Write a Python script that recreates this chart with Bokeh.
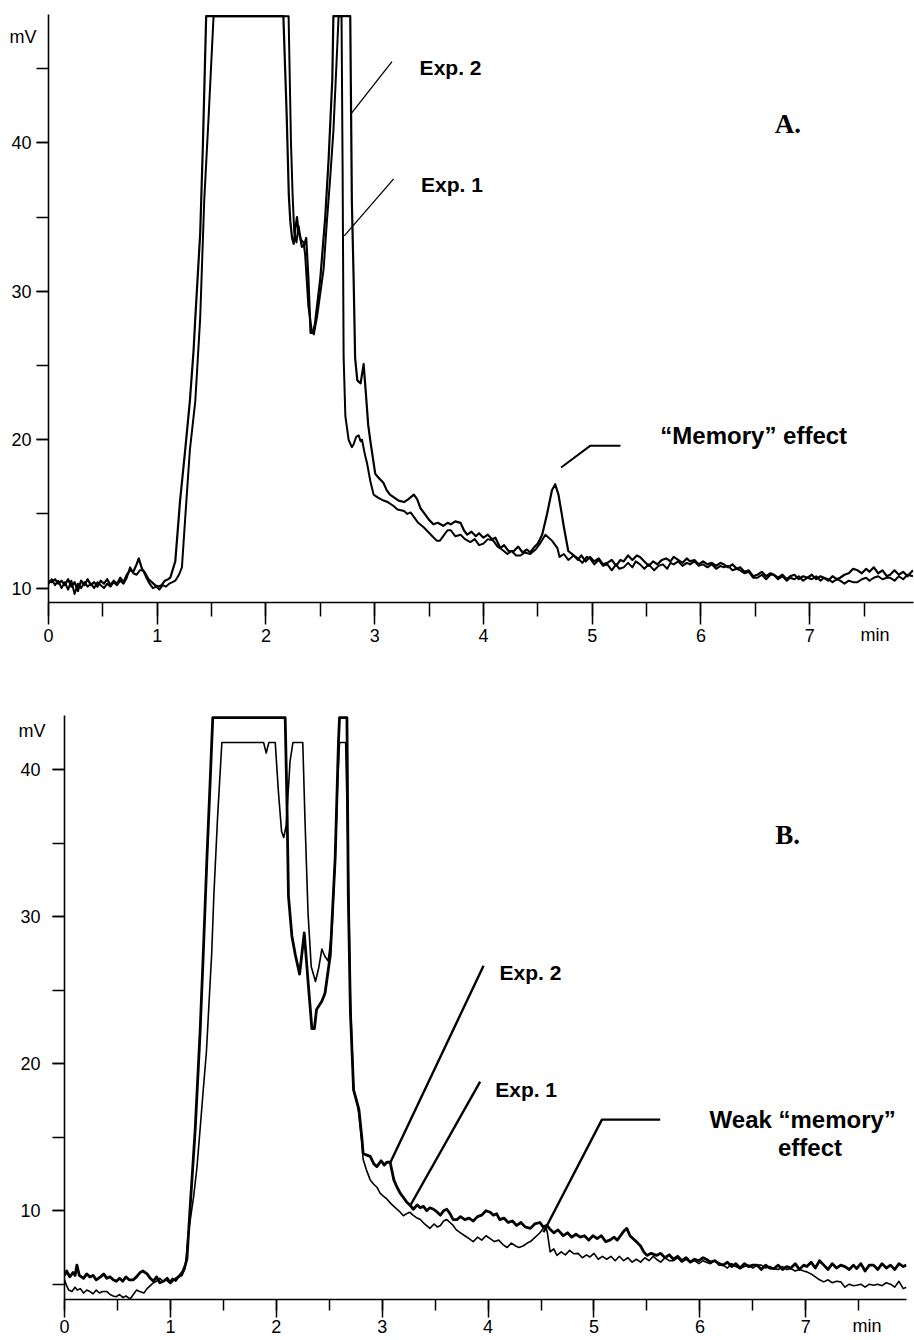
from bokeh.plotting import figure
from bokeh.models import SingleIntervalTicker, FixedTicker, LinearAxis, Label, Range1d
from bokeh.embed import file_html
from bokeh.resources import INLINE

# ---------------- data: (time [min], signal [mV]) ----------------
A_EXP2 = [
    (0.00, 10.5), (0.03, 10.4), (0.06, 10.6), (0.09, 10.3), (0.12, 10.5), (0.15, 10.2), (0.18, 10.6),
    (0.21, 10.1), (0.24, 10.4), (0.27, 9.8), (0.30, 10.5), (0.33, 10.2), (0.36, 10.6), (0.39, 10.2),
    (0.42, 10.4), (0.45, 10.1), (0.48, 10.5), (0.51, 10.3), (0.54, 10.6), (0.57, 10.2), (0.60, 10.5),
    (0.63, 10.3), (0.66, 10.7), (0.69, 10.4), (0.72, 10.9), (0.75, 11.2), (0.78, 11.1), (0.81, 11.6),
    (0.83, 12.0), (0.86, 11.3), (0.89, 11.0), (0.92, 10.6), (0.95, 10.4), (0.98, 10.2), (1.01, 10.1),
    (1.04, 10.2), (1.07, 10.5), (1.10, 10.6), (1.12, 10.7), (1.166, 11.8), (1.21, 15.9), (1.257, 19.3),
    (1.30, 22.6), (1.334, 26.0), (1.35, 28.2), (1.395, 33.9), (1.42, 39.9), (1.45, 48.55),
    (2.16, 48.55), (2.19, 42.0), (2.21, 36.5), (2.224, 34.7), (2.24, 33.6), (2.255, 33.2), (2.27, 34.2),
    (2.285, 35.0), (2.30, 34.0), (2.316, 33.6), (2.33, 33.0), (2.35, 33.1), (2.37, 33.6), (2.39, 30.9),
    (2.41, 27.2), (2.43, 27.2), (2.45, 27.8), (2.50, 30.9), (2.545, 35.0), (2.576, 38.9), (2.61, 44.3),
    (2.62, 48.55), (2.775, 48.55), (2.79, 36.0), (2.806, 30.9), (2.82, 25.5), (2.84, 24.0), (2.87, 23.8),
    (2.898, 25.1), (2.92, 23.0), (2.94, 21.0), (2.96, 19.9), (3.005, 17.7), (3.04, 17.4), (3.08, 17.1),
    (3.11, 16.6), (3.14, 16.3), (3.18, 16.1), (3.22, 15.9), (3.27, 15.8), (3.31, 16.0), (3.36, 16.3),
    (3.39, 16.0), (3.42, 15.4), (3.46, 15.0), (3.50, 14.6), (3.54, 14.3), (3.58, 14.4), (3.63, 14.2),
    (3.67, 14.4), (3.70, 14.3), (3.74, 14.5), (3.79, 14.4), (3.82, 13.9), (3.85, 13.6), (3.89, 13.8),
    (3.93, 13.5), (3.96, 13.7), (4.00, 13.4), (4.04, 13.6), (4.08, 13.3), (4.11, 13.4), (4.155, 12.7),
    (4.19, 12.9), (4.23, 12.5), (4.28, 12.5), (4.32, 12.8), (4.36, 12.4), (4.40, 12.6), (4.43, 12.4),
    (4.46, 12.7), (4.50, 13.0), (4.54, 13.6), (4.585, 15.0), (4.63, 16.6), (4.66, 17.0), (4.69, 16.3),
    (4.72, 15.0), (4.74, 14.1), (4.78, 12.5), (4.83, 12.2), (4.87, 11.9), (4.90, 12.2), (4.94, 11.8),
    (4.98, 12.1), (5.02, 11.8), (5.06, 12.0), (5.10, 11.6), (5.14, 11.7), (5.18, 11.9), (5.22, 11.5),
    (5.26, 11.9), (5.29, 11.8), (5.33, 12.2), (5.37, 11.9), (5.41, 12.2), (5.44, 12.1), (5.48, 11.8),
    (5.52, 11.5), (5.56, 11.8), (5.60, 11.6), (5.64, 11.9), (5.68, 12.0), (5.72, 11.8), (5.75, 12.1),
    (5.79, 11.9), (5.83, 11.7), (5.87, 12.0), (5.90, 11.8), (5.94, 11.9), (5.98, 11.6), (6.02, 11.8),
    (6.06, 11.6), (6.10, 11.7), (6.14, 11.5), (6.18, 11.7), (6.21, 11.6), (6.25, 11.4), (6.29, 11.6),
    (6.33, 11.3), (6.36, 11.4), (6.40, 11.1), (6.44, 11.2), (6.48, 10.8), (6.52, 10.9), (6.56, 11.1),
    (6.60, 10.8), (6.64, 11.0), (6.67, 10.9), (6.71, 10.7), (6.75, 10.9), (6.79, 10.6), (6.82, 10.8),
    (6.86, 10.9), (6.90, 10.6), (6.94, 10.8), (6.98, 10.7), (7.02, 10.9), (7.06, 10.6), (7.10, 10.8),
    (7.13, 10.7), (7.17, 10.5), (7.21, 10.8), (7.25, 10.6), (7.28, 10.7), (7.32, 10.9), (7.36, 11.0),
    (7.40, 11.3), (7.44, 11.2), (7.48, 11.0), (7.52, 11.3), (7.55, 11.1), (7.59, 11.4), (7.63, 11.0),
    (7.67, 11.2), (7.71, 10.8), (7.74, 10.9), (7.78, 11.2), (7.82, 10.9), (7.86, 11.1), (7.90, 10.8),
    (7.95, 11.2),
]

A_EXP1 = [
    (0.00, 10.3), (0.03, 10.6), (0.06, 10.2), (0.09, 10.5), (0.12, 10.0), (0.15, 10.4), (0.18, 9.9),
    (0.21, 10.5), (0.24, 9.6), (0.27, 10.3), (0.30, 10.0), (0.33, 10.4), (0.36, 10.1), (0.39, 10.3),
    (0.42, 10.0), (0.45, 10.4), (0.48, 10.2), (0.51, 10.0), (0.54, 10.3), (0.57, 10.1), (0.60, 10.4),
    (0.63, 10.2), (0.66, 10.5), (0.69, 10.3), (0.72, 10.7), (0.75, 11.4), (0.78, 11.0), (0.81, 10.9),
    (0.84, 11.2), (0.87, 11.2), (0.90, 10.7), (0.93, 10.3), (0.96, 10.0), (0.99, 10.1), (1.02, 9.9),
    (1.05, 10.2), (1.08, 10.1), (1.11, 10.3), (1.14, 10.4), (1.166, 10.5), (1.20, 10.9), (1.227, 11.4),
    (1.258, 14.8), (1.30, 19.3), (1.35, 22.6), (1.395, 28.2), (1.432, 36.1), (1.472, 41.7), (1.518, 48.55),
    (2.208, 48.55), (2.23, 40.0), (2.245, 36.5), (2.26, 34.0), (2.28, 33.3), (2.30, 34.4), (2.32, 33.5),
    (2.345, 33.3), (2.36, 32.5), (2.39, 29.0), (2.42, 27.4), (2.44, 27.1), (2.47, 28.3), (2.53, 31.5),
    (2.56, 34.7), (2.59, 37.6), (2.62, 40.8), (2.65, 45.6), (2.668, 48.55), (2.695, 48.55), (2.705, 38.0),
    (2.714, 25.6), (2.73, 21.6), (2.76, 20.0), (2.79, 19.5), (2.806, 19.7), (2.83, 20.2), (2.852, 20.3),
    (2.87, 19.9), (2.883, 20.0), (2.91, 19.0), (2.93, 18.4), (2.96, 17.2), (2.99, 16.3), (3.03, 16.1),
    (3.08, 15.9), (3.12, 15.8), (3.17, 15.55), (3.21, 15.3), (3.27, 15.2), (3.30, 15.0), (3.33, 15.1),
    (3.36, 14.8), (3.40, 14.4), (3.45, 14.1), (3.49, 13.8), (3.53, 13.5), (3.57, 13.2), (3.60, 13.2),
    (3.64, 13.6), (3.67, 13.9), (3.70, 13.9), (3.74, 13.5), (3.79, 13.6), (3.83, 13.3), (3.88, 13.1),
    (3.92, 13.3), (3.96, 12.9), (4.00, 13.0), (4.04, 13.3), (4.09, 13.2), (4.13, 12.8), (4.17, 12.6),
    (4.22, 12.3), (4.26, 12.5), (4.30, 12.2), (4.34, 12.2), (4.38, 12.4), (4.43, 12.3), (4.48, 12.6),
    (4.52, 13.0), (4.57, 13.6), (4.60, 13.4), (4.63, 13.2), (4.68, 12.7), (4.70, 12.1), (4.74, 12.3),
    (4.78, 11.9), (4.83, 12.2), (4.87, 12.0), (4.91, 11.7), (4.95, 12.1), (4.98, 12.0), (5.02, 11.6),
    (5.06, 11.9), (5.10, 11.5), (5.14, 11.6), (5.18, 11.2), (5.22, 11.6), (5.25, 11.3), (5.29, 11.4),
    (5.33, 11.7), (5.37, 11.4), (5.40, 11.8), (5.44, 11.6), (5.48, 11.3), (5.52, 11.6), (5.57, 11.2),
    (5.61, 11.5), (5.65, 11.6), (5.69, 11.3), (5.72, 11.7), (5.75, 11.6), (5.79, 11.8), (5.83, 11.5),
    (5.87, 11.7), (5.90, 11.6), (5.94, 11.8), (5.98, 11.5), (6.02, 11.6), (6.06, 11.4), (6.10, 11.6),
    (6.14, 11.3), (6.18, 11.5), (6.21, 11.4), (6.25, 11.5), (6.29, 11.2), (6.33, 11.3), (6.36, 11.2),
    (6.40, 11.0), (6.44, 11.1), (6.48, 10.7), (6.52, 10.7), (6.56, 10.9), (6.60, 10.6), (6.64, 10.9),
    (6.67, 10.9), (6.71, 10.6), (6.75, 10.8), (6.79, 10.5), (6.82, 10.7), (6.86, 10.6), (6.90, 10.8),
    (6.94, 10.5), (6.98, 10.7), (7.02, 10.6), (7.06, 10.8), (7.10, 10.5), (7.13, 10.7), (7.17, 10.6),
    (7.21, 10.4), (7.25, 10.6), (7.28, 10.5), (7.32, 10.3), (7.36, 10.5), (7.40, 10.4), (7.44, 10.4),
    (7.48, 10.6), (7.52, 10.7), (7.55, 10.5), (7.59, 10.7), (7.63, 10.8), (7.67, 10.6), (7.71, 10.7),
    (7.74, 10.7), (7.78, 10.5), (7.82, 10.8), (7.86, 10.6), (7.90, 10.9), (7.95, 10.8),
]

B_EXP2 = [
    (0.00, 5.6), (0.02, 5.9), (0.05, 5.5), (0.08, 5.8), (0.10, 5.6), (0.117, 6.3), (0.14, 5.6),
    (0.18, 5.4), (0.21, 5.7), (0.24, 5.5), (0.27, 5.6), (0.30, 5.3), (0.34, 5.5), (0.37, 5.7),
    (0.40, 5.4), (0.43, 5.5), (0.46, 5.3), (0.49, 5.2), (0.52, 5.4), (0.55, 5.2), (0.58, 5.5),
    (0.61, 5.3), (0.65, 5.3), (0.68, 5.5), (0.715, 5.8), (0.74, 5.9), (0.78, 5.7), (0.81, 5.4),
    (0.84, 5.2), (0.87, 5.5), (0.90, 5.1), (0.935, 5.2), (0.97, 5.4), (1.00, 5.1), (1.03, 5.3),
    (1.06, 5.4), (1.09, 5.6), (1.12, 5.9), (1.14, 6.3), (1.156, 6.7), (1.187, 10.3), (1.234, 15.5),
    (1.28, 22.1), (1.31, 27.4), (1.345, 34.0), (1.376, 39.3), (1.40, 43.55), (2.084, 43.55),
    (2.10, 38.0), (2.115, 31.4), (2.147, 28.7), (2.18, 27.4), (2.22, 26.1), (2.264, 28.9), (2.30, 25.6),
    (2.336, 22.4), (2.36, 22.4), (2.38, 23.7), (2.43, 24.25), (2.46, 24.8), (2.51, 27.4), (2.556, 34.0),
    (2.587, 41.9), (2.597, 43.55), (2.667, 43.55), (2.68, 31.4), (2.70, 23.5), (2.73, 18.2), (2.78, 16.9),
    (2.81, 14.8), (2.82, 13.9), (2.85, 13.8), (2.887, 13.7), (2.92, 13.2), (2.95, 13.0), (2.99, 13.4),
    (3.02, 13.1), (3.044, 13.3), (3.075, 13.3), (3.11, 12.1), (3.14, 11.6), (3.17, 11.2), (3.20, 10.9),
    (3.23, 10.6), (3.26, 10.4), (3.295, 10.1), (3.33, 10.4), (3.36, 10.2), (3.39, 10.3), (3.42, 10.0),
    (3.45, 10.2), (3.485, 10.1), (3.52, 9.9), (3.55, 9.7), (3.58, 10.0), (3.61, 10.1), (3.64, 9.8),
    (3.67, 9.4), (3.705, 9.4), (3.74, 9.6), (3.78, 9.4), (3.82, 9.5), (3.86, 9.3), (3.90, 9.6),
    (3.94, 9.7), (3.98, 10.0), (4.02, 9.9), (4.05, 9.7), (4.08, 9.8), (4.11, 9.4), (4.15, 9.5),
    (4.19, 9.2), (4.23, 9.3), (4.27, 9.0), (4.31, 9.2), (4.35, 8.9), (4.40, 8.8), (4.44, 9.1),
    (4.49, 9.2), (4.52, 8.9), (4.555, 9.0), (4.59, 8.7), (4.62, 8.5), (4.66, 8.7), (4.71, 8.3),
    (4.75, 8.5), (4.79, 8.2), (4.83, 8.4), (4.87, 8.2), (4.91, 8.3), (4.95, 8.0), (4.99, 8.3),
    (5.03, 8.1), (5.07, 8.3), (5.11, 7.9), (5.15, 8.0), (5.19, 8.2), (5.22, 8.0), (5.25, 8.3),
    (5.28, 8.6), (5.31, 8.8), (5.34, 8.3), (5.37, 8.1), (5.40, 7.9), (5.44, 7.6), (5.47, 7.2),
    (5.50, 6.96), (5.54, 7.1), (5.59, 6.96), (5.63, 7.1), (5.67, 6.8), (5.71, 7.0), (5.75, 6.7),
    (5.79, 6.9), (5.83, 6.6), (5.87, 6.8), (5.91, 6.5), (5.95, 6.7), (5.99, 6.6), (6.03, 6.8),
    (6.06, 6.7), (6.10, 6.5), (6.14, 6.6), (6.18, 6.4), (6.22, 6.3), (6.26, 6.5), (6.30, 6.2),
    (6.34, 6.4), (6.38, 6.1), (6.42, 6.4), (6.46, 6.2), (6.50, 6.3), (6.54, 6.3), (6.58, 6.0),
    (6.62, 6.3), (6.66, 6.1), (6.70, 6.06), (6.74, 6.3), (6.78, 6.0), (6.82, 6.2), (6.86, 6.1),
    (6.90, 6.4), (6.94, 6.0), (6.98, 6.3), (7.01, 6.2), (7.05, 6.5), (7.09, 6.1), (7.13, 6.6),
    (7.17, 6.3), (7.21, 6.0), (7.25, 6.4), (7.29, 6.1), (7.33, 6.3), (7.37, 6.2), (7.41, 6.0),
    (7.45, 6.3), (7.48, 6.06), (7.52, 6.4), (7.56, 5.9), (7.60, 6.3), (7.64, 6.3), (7.68, 6.0),
    (7.72, 6.4), (7.76, 6.1), (7.80, 6.3), (7.84, 6.0), (7.88, 6.4), (7.92, 6.2), (7.95, 6.3),
]

B_EXP1 = [
    (0.00, 5.3), (0.02, 4.9), (0.04, 4.6), (0.07, 4.5), (0.10, 4.8), (0.12, 4.6), (0.15, 4.7),
    (0.18, 4.4), (0.21, 4.6), (0.24, 4.5), (0.27, 4.35), (0.30, 4.6), (0.33, 4.4), (0.36, 4.5),
    (0.40, 4.5), (0.43, 4.3), (0.46, 4.2), (0.49, 4.15), (0.52, 4.3), (0.55, 4.1), (0.58, 4.2),
    (0.62, 4.0), (0.65, 4.3), (0.68, 4.6), (0.71, 4.5), (0.75, 4.4), (0.78, 4.7), (0.81, 4.9),
    (0.84, 5.1), (0.87, 5.2), (0.90, 5.4), (0.93, 5.2), (0.96, 5.3), (0.99, 5.1), (1.02, 5.4),
    (1.05, 5.2), (1.08, 5.5), (1.11, 5.6), (1.14, 6.1), (1.17, 8.5), (1.22, 11.0), (1.25, 12.9),
    (1.28, 15.5), (1.31, 18.2), (1.34, 20.8), (1.36, 23.5), (1.39, 27.5), (1.41, 31.4), (1.445, 36.7),
    (1.486, 41.86), (1.88, 41.86), (1.905, 41.15), (1.93, 41.86), (1.99, 41.86), (2.02, 38.5),
    (2.05, 35.8), (2.07, 35.4), (2.093, 36.2), (2.13, 40.6), (2.157, 41.86), (2.25, 41.86), (2.27, 36.8),
    (2.30, 30.2), (2.33, 26.6), (2.37, 25.6), (2.40, 26.5), (2.43, 27.8), (2.46, 27.3), (2.49, 27.0),
    (2.525, 29.0), (2.556, 34.0), (2.58, 39.3), (2.597, 41.86), (2.655, 41.86), (2.675, 35.0),
    (2.70, 24.3), (2.73, 18.2), (2.76, 17.5), (2.78, 16.6), (2.81, 14.5), (2.82, 13.5), (2.85, 12.8),
    (2.887, 12.1), (2.92, 11.8), (2.95, 11.6), (2.98, 11.2), (3.01, 11.0), (3.044, 10.8), (3.08, 10.5),
    (3.11, 10.3), (3.14, 10.1), (3.17, 9.9), (3.20, 9.66), (3.23, 9.8), (3.26, 9.9), (3.29, 9.7),
    (3.33, 9.5), (3.36, 9.4), (3.40, 9.1), (3.45, 8.8), (3.49, 9.1), (3.52, 8.9), (3.55, 9.0),
    (3.58, 9.3), (3.61, 9.4), (3.64, 9.2), (3.67, 9.0), (3.70, 8.7), (3.74, 8.5), (3.78, 8.3),
    (3.82, 8.1), (3.86, 7.9), (3.90, 8.2), (3.94, 8.0), (3.98, 8.3), (4.02, 8.1), (4.06, 7.9),
    (4.10, 8.0), (4.14, 7.7), (4.18, 7.5), (4.22, 7.8), (4.26, 7.6), (4.29, 7.5), (4.33, 7.6),
    (4.37, 7.8), (4.40, 7.9), (4.43, 8.1), (4.46, 8.3), (4.49, 8.5), (4.52, 8.8), (4.54, 9.0),
    (4.56, 8.5), (4.586, 7.2), (4.62, 7.4), (4.65, 6.96), (4.69, 7.2), (4.73, 7.0), (4.77, 7.3),
    (4.81, 7.07), (4.85, 7.1), (4.89, 6.8), (4.93, 7.0), (4.96, 6.85), (5.00, 7.1), (5.04, 6.7),
    (5.08, 6.9), (5.12, 6.7), (5.16, 6.9), (5.20, 6.6), (5.24, 6.9), (5.28, 6.6), (5.32, 6.8),
    (5.36, 6.5), (5.40, 6.7), (5.44, 6.5), (5.48, 6.8), (5.52, 6.6), (5.56, 6.9), (5.59, 6.7),
    (5.63, 6.5), (5.67, 6.8), (5.71, 6.6), (5.75, 6.6), (5.79, 6.8), (5.83, 6.5), (5.87, 6.7),
    (5.91, 6.5), (5.95, 6.6), (5.99, 6.4), (6.03, 6.6), (6.06, 6.5), (6.10, 6.4), (6.14, 6.6),
    (6.18, 6.3), (6.22, 6.3), (6.26, 6.1), (6.30, 6.4), (6.34, 6.2), (6.38, 6.06), (6.42, 6.2),
    (6.46, 6.3), (6.50, 6.1), (6.54, 6.3), (6.58, 6.3), (6.62, 6.1), (6.66, 6.2), (6.70, 6.06),
    (6.74, 6.0), (6.78, 6.2), (6.82, 6.0), (6.86, 6.06), (6.90, 5.9), (6.94, 6.0), (6.98, 5.9),
    (7.01, 5.84), (7.05, 5.7), (7.09, 5.5), (7.13, 5.3), (7.17, 5.16), (7.21, 5.3), (7.25, 5.1),
    (7.29, 5.2), (7.33, 5.16), (7.37, 4.8), (7.41, 5.0), (7.45, 4.9), (7.48, 4.93), (7.52, 5.0),
    (7.56, 4.8), (7.60, 5.0), (7.64, 4.93), (7.68, 5.0), (7.72, 4.9), (7.76, 5.1), (7.80, 5.0),
    (7.84, 4.8), (7.88, 5.2), (7.92, 4.7), (7.95, 4.8),
]

X_UNIT = "min"
Y_UNIT = "mV"

# ---------------- annotations (data coordinates of text anchors / leader lines) ----------------
A_TEXTS = [
    ("Exp. 2", 3.413, 45.08, "left", "21px", "Liberation Sans"),
    ("Exp. 1", 3.426, 37.17, "left", "21px", "Liberation Sans"),
    ("\u201cMemory\u201d effect", 5.627, 20.27, "left", "24px", "Liberation Sans"),
    ("A.", 6.679, 41.31, "left", "27px", "Liberation Serif"),
]
A_LEADERS = [
    ([3.159, 2.782], [45.49, 41.96], 1.3),
    ([3.174, 2.720], [37.58, 33.74], 1.3),
    ([4.714, 4.984, 5.26], [18.13, 19.6, 19.6], 2.0),
]
B_TEXTS = [
    ("Exp. 2", 4.108, 26.22, "left", "21px", "Liberation Sans"),
    ("Exp. 1", 4.067, 18.27, "left", "21px", "Liberation Sans"),
    ("Weak \u201cmemory\u201d", 6.971, 16.2, "center", "24px", "Liberation Sans"),
    ("effect", 7.04, 14.28, "center", "24px", "Liberation Sans"),
    ("B.", 6.711, 35.57, "left", "27px", "Liberation Serif"),
]
B_LEADERS = [
    ([3.957, 3.076], [26.67, 13.27], 2.4),
    ([3.925, 3.264], [18.78, 10.34], 2.4),
    ([4.523, 5.075, 5.625], [8.54, 16.2, 16.2], 2.4),
]


def style_axis(ax, tick_out, minor_out, standoff):
    ax.axis_line_width = 1.6
    ax.axis_line_color = "black"
    ax.major_tick_line_color = "black"
    ax.minor_tick_line_color = "black"
    ax.major_tick_line_width = 1.5
    ax.minor_tick_line_width = 1.5
    ax.major_tick_in = 0
    ax.minor_tick_in = 0
    ax.major_tick_out = tick_out
    ax.minor_tick_out = minor_out
    ax.major_label_standoff = standoff
    ax.major_label_text_font = "Liberation Sans"
    ax.major_label_text_font_size = "18px"
    ax.major_label_text_color = "black"


def unit_axis(tick, text, standoff):
    ax = LinearAxis(ticker=FixedTicker(ticks=[tick], minor_ticks=[]),
                    major_label_overrides={tick: text})
    ax.axis_line_color = None
    ax.major_tick_line_color = None
    ax.minor_tick_line_color = None
    ax.major_tick_out = 0
    ax.major_tick_in = 0
    ax.minor_tick_out = 0
    ax.minor_tick_in = 0
    ax.major_label_standoff = standoff
    ax.major_label_text_font = "Liberation Sans"
    ax.major_label_text_font_size = "18px"
    ax.major_label_text_color = "black"
    return ax


def make_panel(height, x_end, y_start, y_end, mb_left, mb_right, mb_top, mb_bottom,
               xtick_major, xtick_minor, xstandoff, ytick, ystandoff,
               mv_at, mv_standoff, min_at, min_standoff):
    p = figure(width=914, height=height, x_range=Range1d(0, x_end), y_range=Range1d(y_start, y_end),
               output_backend="svg", toolbar_location=None,
               min_border_left=mb_left, min_border_right=mb_right,
               min_border_top=mb_top, min_border_bottom=mb_bottom)
    p.outline_line_color = None
    p.grid.visible = False
    p.background_fill_color = "white"
    p.border_fill_color = "white"

    xa = p.xaxis[0]
    xa.ticker = SingleIntervalTicker(interval=1, num_minor_ticks=2)
    style_axis(xa, xtick_major, xtick_minor, xstandoff)
    ya = p.yaxis[0]
    ya.ticker = SingleIntervalTicker(interval=10, num_minor_ticks=2)
    style_axis(ya, ytick, ytick, ystandoff)

    # unit labels ("min", "mV") carried by tick-less outer axes
    p.add_layout(unit_axis(min_at, X_UNIT, min_standoff), "below")
    p.add_layout(unit_axis(mv_at, Y_UNIT, mv_standoff), "left")
    return p


def add_texts(p, texts, leaders):
    for xs, ys, w in leaders:
        p.line(xs, ys, line_color="black", line_width=w)
    for txt, x, y, align, size, font in texts:
        p.add_layout(Label(x=x, y=y, text=txt, text_font=font, text_font_size=size,
                           text_font_style="bold", text_align=align, text_baseline="middle",
                           text_color="black"))


# ---------------- panel A ----------------
pa = make_panel(666, 7.955, 9.03, 48.66, 48, 1, 14, 64, 22, 14, 4, 12, 5,
                47.11, -28, 7.6, -20)
for series, w in ((A_EXP1, 2.0), (A_EXP2, 2.2)):
    t, mv = zip(*series)
    pa.line(list(t), list(mv), line_color="black", line_width=w, line_join="round")
add_texts(pa, A_TEXTS, A_LEADERS)

# ---------------- panel B ----------------
pb = make_panel(672, 7.951, 3.96, 43.7, 64, 8, 49, 36, 18, 11, 2, 12, 12,
                42.66, -28, 7.577, -20)
for series, w in ((B_EXP1, 1.6), (B_EXP2, 2.8)):
    t, mv = zip(*series)
    pb.line(list(t), list(mv), line_color="black", line_width=w, line_join="round")
add_texts(pb, B_TEXTS, B_LEADERS)

open("out.html", "w").write(file_html([pa, pb], INLINE))
